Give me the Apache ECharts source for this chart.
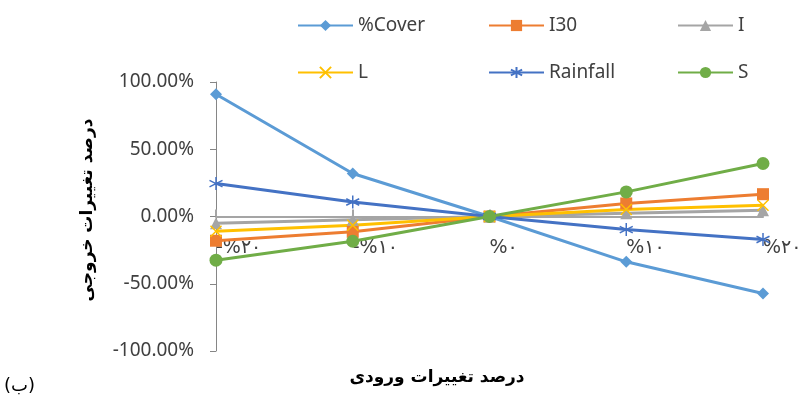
<!DOCTYPE html>
<html>
<head>
<meta charset="utf-8">
<script src="https://cdn.jsdelivr.net/npm/echarts@6/dist/echarts.min.js"></script>
<style>
  html, body { margin: 0; padding: 0; background: #fff; }
  #chart { width: 810px; height: 402px; }
</style>
</head>
<body>
<div id="chart"></div>
<script>
// categories (input change) and output change per parameter
const categories = ['-%۲۰', '-%۱۰', '%۰', '%۱۰', '%۲۰']
const cover = [0.909, 0.32, 0, -0.337, -0.572]
const i30 = [-0.18, -0.114, 0, 0.097, 0.166]
const iVals = [-0.05, -0.025, 0, 0.025, 0.047]
const lVals = [-0.11, -0.065, 0, 0.052, 0.084]
const rainfall = [0.245, 0.108, 0, -0.097, -0.171]
const sVals = [-0.325, -0.184, 0, 0.183, 0.394]
const yTicks = [-1, -0.5, 0, 0.5, 1]
const seriesNames = ['%Cover', 'I30', 'I', 'L', 'Rainfall', 'S']

const chart = echarts.init(document.getElementById('chart'))

const xPath = 'path://M0,0L10,10M10,0L0,10'
const starPath = 'path://M5,0L5,10M0.7,2.5L9.3,7.5M9.3,2.5L0.7,7.5'

const mk = (name, data, color, symbol, size, stroke) => ({
  name: name,
  type: 'line',
  xAxisIndex: 0,
  data: data,
  symbol: symbol,
  symbolSize: size,
  lineStyle: { color: color, width: 3 },
  itemStyle: stroke
    ? { color: 'rgba(0,0,0,0)', borderColor: color, borderWidth: 1.5 }
    : { color: color },
  color: color,
})

// one legend per item so the columns line up like the excel legend
const legendCols = [292, 483, 672]
const legendRows = [11, 58]
const legends = seriesNames.map((n, i) => ({
  data: [n],
  left: legendCols[i % 3],
  top: legendRows[Math.floor(i / 3)],
  itemWidth: 55,
  itemHeight: 14,
  textStyle: { fontFamily: 'Noto Sans', fontSize: 19, color: '#404040' },
}))

const option = {
  animation: false,
  grid: { left: 216, right: 47, top: 82, bottom: 51 },
  legend: legends,
  xAxis: [
    {
      // line + ticks crossing at zero
      type: 'category',
      position: 'bottom',
      data: categories,
      boundaryGap: false,
      axisLine: { show: true, onZero: true, lineStyle: { color: '#a5a5a5', width: 2 } },
      axisTick: { show: true, inside: true, length: 7, lineStyle: { color: '#a5a5a5', width: 2 } },
      axisLabel: { show: false },
    },
    {
      // labels only, sitting just under the zero line
      type: 'category',
      position: 'bottom',
      data: categories,
      boundaryGap: false,
      offset: -134.5,
      axisLine: { show: false, onZero: false },
      axisTick: { show: false },
      axisLabel: {
        align: 'left', margin: 22, fontSize: 19, color: '#404040',
        fontFamily: 'DejaVu Sans', interval: 0,
      },
    },
  ],
  yAxis: {
    type: 'value',
    min: -1, max: 1, interval: 0.5,
    splitLine: { show: false },
    axisLine: { show: true, lineStyle: { color: '#868686', width: 1 } },
    axisTick: { show: true, length: 6, lineStyle: { color: '#868686' } },
    axisLabel: {
      margin: 22, fontSize: 19, color: '#404040', fontFamily: 'Noto Sans',
      formatter: v => (yTicks.includes(v) ? (v * 100).toFixed(2) + '%' : ''),
    },
  },
  graphic: [
    {
      type: 'text', x: 88, y: 210, rotation: Math.PI / 2,
      style: {
        text: 'درصد تغییرات خروجی', textAlign: 'center', textVerticalAlign: 'middle',
        font: 'bold 17px "DejaVu Sans"', fill: '#000',
      },
    },
    {
      type: 'text', x: 437, y: 378,
      style: {
        text: 'درصد تغییرات ورودی', textAlign: 'center', textVerticalAlign: 'middle',
        font: 'bold 17px "DejaVu Sans"', fill: '#000',
      },
    },
    {
      type: 'text', x: 4, y: 386,
      style: {
        text: '(ب)', textVerticalAlign: 'middle',
        font: '18px "DejaVu Sans"', fill: '#000',
      },
    },
  ],
  series: [
    mk('%Cover', cover, '#5b9bd5', 'diamond', 12),
    mk('I30', i30, '#ed7d31', 'rect', 12),
    mk('I', iVals, '#a5a5a5', 'triangle', 12),
    mk('L', lVals, '#ffc000', xPath, 11, true),
    mk('Rainfall', rainfall, '#4472c4', starPath, 13, true),
    mk('S', sVals, '#70ad47', 'circle', 13),
  ],
}

chart.setOption(option)
</script>
</body>
</html>
